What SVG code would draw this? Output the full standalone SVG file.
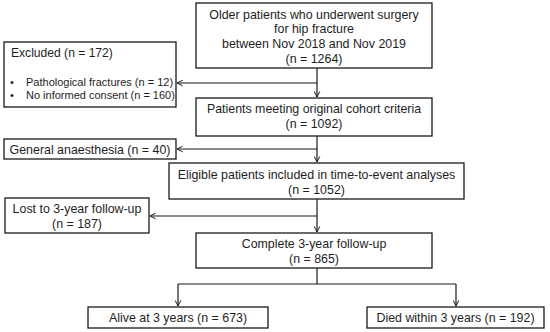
<svg xmlns="http://www.w3.org/2000/svg" width="550" height="332" viewBox="0 0 550 332">
<defs>
<style>
.box{fill:#fff;stroke:#1a1a1a;stroke-width:1.3}
.t{font-family:"Liberation Sans",Arial,sans-serif;font-size:12.4px;fill:#1e1e1e;text-anchor:middle}
.l{text-anchor:start}
.s{font-size:11px}
.c{fill:none;stroke:#1a1a1a;stroke-width:1.2}
</style>
<marker id="ah" viewBox="0 0 10 10" refX="9" refY="5" markerWidth="7" markerHeight="7" orient="auto" markerUnits="userSpaceOnUse">
<path d="M1,1 L9,5 L1,9" fill="none" stroke="#1a1a1a" stroke-width="1.4"/>
</marker>
</defs>
<rect width="550" height="332" fill="#fff"/>
<g id="connectors">
<line class="c" x1="317" y1="68" x2="317" y2="97" marker-end="url(#ah)"/>
<line class="c" x1="317" y1="83" x2="177" y2="83" marker-end="url(#ah)"/>
<line class="c" x1="317" y1="136" x2="317" y2="162" marker-end="url(#ah)"/>
<line class="c" x1="317" y1="149" x2="177" y2="149" marker-end="url(#ah)"/>
<line class="c" x1="317" y1="199" x2="317" y2="232" marker-end="url(#ah)"/>
<line class="c" x1="317" y1="216" x2="150" y2="216" marker-end="url(#ah)"/>
<polyline class="c" points="317,268 317,284"/>
<line class="c" x1="178" y1="284" x2="456" y2="284"/>
<line class="c" x1="178" y1="284" x2="178" y2="306" marker-end="url(#ah)"/>
<line class="c" x1="456" y1="284" x2="456" y2="306" marker-end="url(#ah)"/>
</g>
<g id="n1">
<rect class="box" x="196" y="3" width="236" height="65"/>
<text class="t" x="314" y="18.5">Older patients who underwent surgery</text>
<text class="t" x="314" y="33">for hip fracture</text>
<text class="t" x="314" y="47.5">between Nov 2018 and Nov 2019</text>
<text class="t" x="314" y="62.5">(n = 1264)</text>
</g>
<g id="excluded">
<rect class="box" x="4" y="42" width="172" height="65"/>
<text class="t l" x="11" y="57" style="font-size:12.1px">Excluded (n = 172)</text>
<text class="t l s" x="10" y="85.5">•</text>
<text class="t l s" x="26" y="85.5">Pathological fractures (n = 12)</text>
<text class="t l s" x="10" y="99">•</text>
<text class="t l s" x="26" y="99">No informed consent (n = 160)</text>
</g>
<g id="n2">
<rect class="box" x="196" y="98" width="236" height="38"/>
<text class="t" x="314" y="112.5">Patients meeting original cohort criteria</text>
<text class="t" x="314" y="127.5">(n = 1092)</text>
</g>
<g id="general">
<rect class="box" x="4" y="139" width="172" height="20"/>
<text class="t" x="90" y="153.5">General anaesthesia (n = 40)</text>
</g>
<g id="n3">
<rect class="box" x="169" y="163" width="295" height="36"/>
<text class="t" x="316.5" y="178.5">Eligible patients included in time-to-event analyses</text>
<text class="t" x="316.5" y="193.5">(n = 1052)</text>
</g>
<g id="lost">
<rect class="box" x="5" y="198" width="144" height="35"/>
<text class="t" x="77" y="212.5">Lost to 3-year follow-up</text>
<text class="t" x="77" y="227.5">(n = 187)</text>
</g>
<g id="n4">
<rect class="box" x="196" y="233" width="236" height="35"/>
<text class="t" x="314" y="247.5">Complete 3-year follow-up</text>
<text class="t" x="314" y="263">(n = 865)</text>
</g>
<g id="alive">
<rect class="box" x="88" y="307" width="180" height="21"/>
<text class="t" x="178" y="322">Alive at 3 years (n = 673)</text>
</g>
<g id="died">
<rect class="box" x="367" y="307" width="177" height="21"/>
<text class="t" x="455.5" y="322">Died within 3 years (n = 192)</text>
</g>
</svg>
